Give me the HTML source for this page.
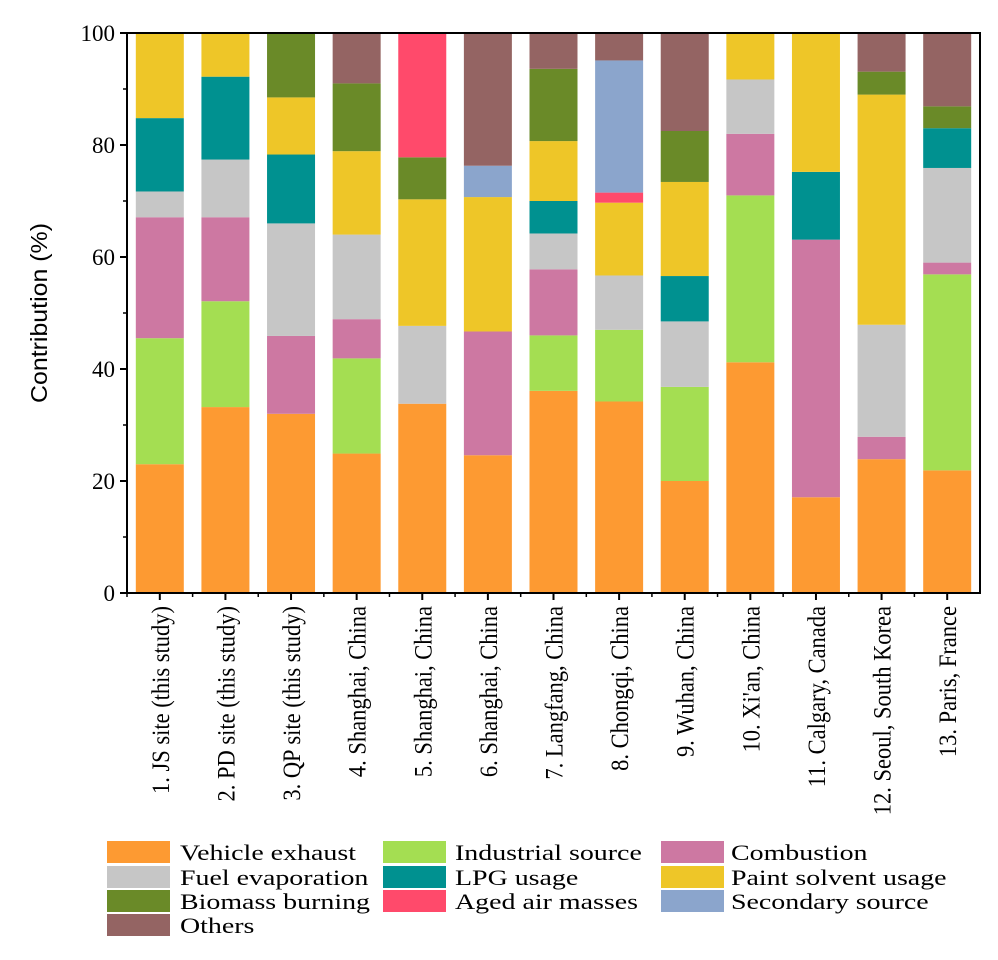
<!DOCTYPE html>
<html><head><meta charset="utf-8"><style>
html,body{margin:0;padding:0;background:#fff;}
svg{display:block;font-family:"Liberation Serif",serif;}
</style></head><body>
<svg id="chart" width="998" height="960" viewBox="0 0 998 960" xmlns="http://www.w3.org/2000/svg">
<g id="bars"></g>
<g id="axes"></g>
<g id="legend"></g>
</svg>
<script>
const categories = ["1. JS site (this study)","2. PD site (this study)","3. QP site (this study)","4. Shanghai, China","5. Shanghai, China","6. Shanghai, China","7. Langfang, China","8. Chongqi, China","9. Wuhan, China","10. Xi'an, China","11. Calgary, Canada","12. Seoul, South Korea","13. Paris, France"];
const seriesNames = ["Vehicle exhaust","Industrial source","Combustion","Fuel evaporation","LPG usage","Paint solvent usage","Biomass burning","Aged air masses","Secondary source","Others"];
const seriesColors = ["#fd9a32","#a4de52","#cd78a2","#c6c6c6","#009190","#eec628","#6a8a28","#ff4a6b","#8ba5cc","#946463"];
const vehicle    = [23.0,33.2,32.0,24.9,33.8,24.6,36.1,34.2,20.0,41.2,17.1,23.9,21.9];
const industrial = [22.5,18.9,0,17.0,0,0,9.9,12.8,16.8,29.8,0,0,35.0];
const combustion = [21.6,15.0,13.9,7.0,0,22.1,11.8,0,0,11.0,46.0,4.0,2.1];
const fuelEvap   = [4.6,10.3,20.1,15.1,13.9,0,6.4,9.7,11.7,9.7,0,20.0,16.9];
const lpg        = [13.1,14.8,12.3,0,0,0,5.8,0,8.1,0,12.1,0,7.1];
const paint      = [15.2,7.8,10.2,14.9,22.6,24.0,10.7,13.0,16.8,8.3,24.8,41.1,0];
const biomass    = [0,0,11.5,12.1,7.5,0,12.9,0,9.1,0,0,4.1,3.9];
const aged       = [0,0,0,0,22.2,0,0,1.8,0,0,0,0,0];
const secondary  = [0,0,0,0,0,5.6,0,23.6,0,0,0,0,0];
const others     = [0,0,0,9.0,0,23.7,6.4,4.9,17.6,0,0,6.9,13.1];
const yTicks = [0,20,40,60,80,100];
const series = [vehicle,industrial,combustion,fuelEvap,lpg,paint,biomass,aged,secondary,others];

const NS="http://www.w3.org/2000/svg";
const L=127,R=980,T=33,B=593;
const band=(R-L)/categories.length, bw=48;
const y=v=>B-(v/100)*(B-T);
const xc=i=>L+band*(i+0.5);
function mk(tag,attrs,parent){const e=document.createElementNS(NS,tag);for(const k in attrs)e.setAttribute(k,attrs[k]);parent.appendChild(e);return e;}
const gb=document.getElementById('bars'),ga=document.getElementById('axes'),gl=document.getElementById('legend');

categories.forEach((c,i)=>{
  let acc=0;
  series.forEach((s,j)=>{
    const v=s[i]; if(!v) return;
    const r=mk('rect',{x:xc(i)-bw/2,y:y(acc+v),width:bw,height:y(acc)-y(acc+v),fill:seriesColors[j]},gb);
    
    
    acc+=v;
  });
  const t=mk('line',{x1:xc(i),x2:xc(i),y1:B,y2:B+7,stroke:'#000','stroke-width':2},ga);
  
  
  const m=mk('line',{x1:L+band*i,x2:L+band*i,y1:B,y2:B+4,stroke:'#000','stroke-width':1.5},ga);
  
  
  const lb=mk('text',{x:0,y:0,transform:`translate(${xc(i)+9},606) rotate(-90) scale(0.9,1)`,'text-anchor':'end','font-size':25},ga);
  lb.textContent=c;
  
  
});
yTicks.forEach(v=>{
  const t=mk('line',{x1:L-7,x2:L,y1:y(v),y2:y(v),stroke:'#000','stroke-width':2},ga);
  
  
  if(v<100){const m=mk('line',{x1:L-4,x2:L,y1:y(v+10),y2:y(v+10),stroke:'#000','stroke-width':1.5},ga);
  
  }
  const lb=mk('text',{x:L-12,y:y(v)+8,'text-anchor':'end','font-size':23},ga);
  lb.textContent=v;
  
  
});
const frame=mk('rect',{x:L,y:T,width:R-L,height:B-T,fill:'none',stroke:'#000','stroke-width':2},ga);


const yt=mk('text',{x:0,y:0,transform:'translate(47,313) rotate(-90)','text-anchor':'middle','font-size':23,'font-family':'Liberation Sans Narrow, Liberation Sans, sans-serif',textLength:180,lengthAdjust:'spacingAndGlyphs'},ga);
yt.textContent='Contribution (%)';



const colX=[107,383,661], txtX=[180,455,731], rowY=[852,877,901,925];
seriesNames.forEach((n,k)=>{
  const c=k%3,r=Math.floor(k/3);
  const sw=mk('rect',{x:colX[c],y:rowY[r]-11,width:63,height:22,fill:seriesColors[k]},gl);
  
  
  const t=mk('text',{x:0,y:0,transform:`translate(${txtX[c]},${rowY[r]+8}) scale(1.27,1)`,'font-size':22},gl);
  t.textContent=n;
  
  
});
</script>
</body></html>
